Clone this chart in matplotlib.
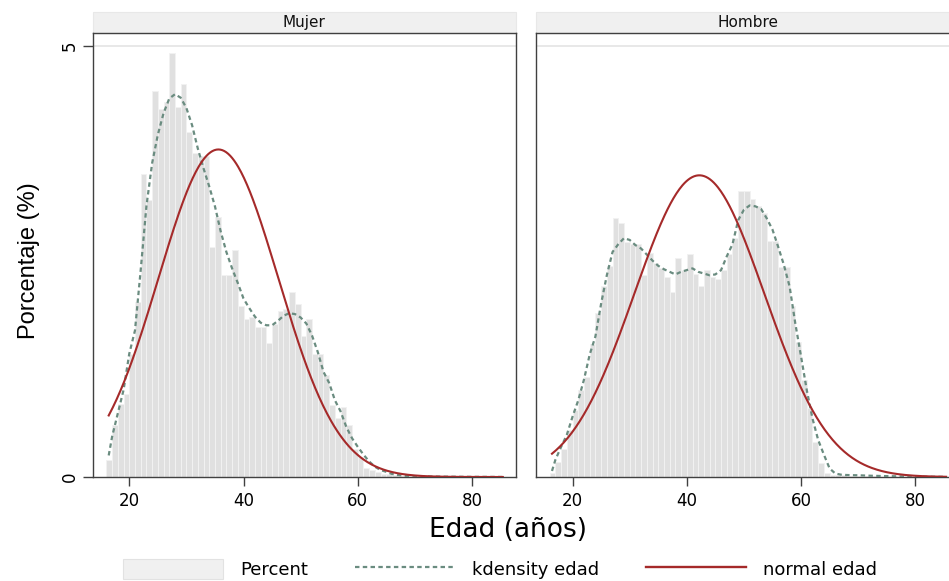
import numpy as np
import matplotlib.pyplot as plt
from matplotlib.patches import Patch, Rectangle
from matplotlib.lines import Line2D

# histogram bins of one year, percent of each group
ages = list(range(16, 76))
pct_mujer = [0.20, 0.60, 0.85, 0.96, 1.43, 2.03, 3.52, 3.21, 4.48, 4.27,
             4.35, 4.92, 4.29, 4.56, 4.00, 3.76, 3.72, 3.72, 2.67, 3.02,
             2.34, 2.34, 2.63, 1.98, 1.83, 1.86, 1.74, 1.74, 1.55, 1.78,
             1.92, 1.95, 2.15, 2.01, 1.63, 1.83, 1.43, 1.43, 1.18, 0.84,
             0.68, 0.81, 0.60, 0.33, 0.23, 0.11, 0.08, 0.06, 0.04, 0.03,
             0.02, 0.015, 0.01, 0.01, 0.008, 0.006, 0.005, 0.004, 0.003, 0.003]
pct_hombre = [0.05, 0.17, 0.33, 0.55, 0.78, 1.01, 1.16, 1.54, 1.90, 2.22,
              2.45, 3.01, 2.95, 2.73, 2.70, 2.70, 2.34, 2.60, 2.48, 2.43,
              2.32, 2.15, 2.54, 2.40, 2.59, 2.36, 2.21, 2.40, 2.32, 2.30,
              2.40, 2.59, 2.77, 3.32, 3.32, 3.23, 3.14, 3.06, 2.74, 2.74,
              2.44, 2.44, 1.98, 1.57, 1.13, 0.80, 0.41, 0.16, 0.05, 0.02,
              0.02, 0.02, 0.015, 0.01, 0.01, 0.008, 0.006, 0.005, 0.004, 0.003]

# kernel density
kd_ages = [16.4] + list(range(17, 71)) + [72, 75, 80, 85.4]
kd_mujer = [0.25,
            0.47, 0.74, 1.01, 1.43, 1.70, 2.40, 3.14, 3.64, 3.97, 4.22,
            4.39, 4.44, 4.40, 4.28, 4.08, 3.81, 3.58, 3.37, 3.14, 2.85,
            2.61, 2.42, 2.25, 2.07, 1.96, 1.86, 1.79, 1.76, 1.76, 1.81,
            1.87, 1.90, 1.89, 1.85, 1.78, 1.64, 1.45, 1.22, 1.09, 0.89,
            0.76, 0.58, 0.45, 0.35, 0.26, 0.18, 0.12, 0.08, 0.06, 0.035,
            0.023, 0.015, 0.01, 0.008,
            0.006, 0.004, 0.002, 0.001]
kd_hombre = [0.07,
             0.20, 0.35, 0.49, 0.70, 0.89, 1.13, 1.42, 1.63, 2.01, 2.34,
             2.61, 2.70, 2.77, 2.75, 2.69, 2.65, 2.58, 2.51, 2.45, 2.41,
             2.38, 2.35, 2.38, 2.40, 2.42, 2.38, 2.36, 2.34, 2.35, 2.40,
             2.56, 2.70, 2.98, 3.10, 3.15, 3.14, 3.11, 3.00, 2.87, 2.67,
             2.46, 2.21, 1.78, 1.40, 1.01, 0.68, 0.43, 0.26, 0.10, 0.04,
             0.027, 0.023, 0.021, 0.02,
             0.015, 0.01, 0.004, 0.002]

# normal overlay (mean and sd of edad in each group)
groups = ["Mujer", "Hombre"]
normal_mean = [35.6, 42.2]
normal_sd = [10.5, 11.4]
age_min, age_max = 16.4, 85.4

BAR_FACE = "#e0e0e0"
BAR_EDGE = "#f2f2f2"
KD_COLOR = "#6a8c80"
NORMAL_COLOR = "#a52a2a"
FRAME = "#404040"
KD_DASH = (0, (2.0, 1.5))


def draw_panel(ax, title, pct, kd, mean, sd):
    ax.bar(ages, pct, width=1.0, align="edge", color=BAR_FACE,
           edgecolor=BAR_EDGE, linewidth=0.7, zorder=2)
    ax.plot(kd_ages, kd, color=KD_COLOR, lw=1.6, linestyle=KD_DASH, zorder=3)

    x = np.linspace(age_min, age_max, 400)
    y = 100.0 / (sd * np.sqrt(2 * np.pi)) * np.exp(-0.5 * ((x - mean) / sd) ** 2)
    ax.plot(x, y, color=NORMAL_COLOR, lw=1.5, zorder=4)

    ax.set_xlim(13.6, 87.7)
    ax.set_ylim(0, 5.147)
    ax.axhline(5, color="#e4e4e4", lw=1.2, zorder=1)

    ax.set_xticks([20, 40, 60, 80])
    ax.tick_params(axis="x", length=6.5, width=1, color=FRAME, pad=4, labelsize=12)
    for s in ax.spines.values():
        s.set_color(FRAME)
        s.set_linewidth(1.0)

    # facet strip above the panel
    strip = Rectangle((0, 1.0), 1.0, 0.048, transform=ax.transAxes, clip_on=False,
                      facecolor="#f0f0f0", edgecolor="#e8e8e8", lw=0.8)
    ax.add_patch(strip)
    ax.text(0.5, 1.024, title, transform=ax.transAxes, ha="center", va="center",
            fontsize=11, color="#111111")


def main():
    plt.rcParams["font.family"] = ["DejaVu Sans"]
    fig = plt.figure(figsize=(9.49, 5.81), dpi=100)

    ax1 = fig.add_axes([0.0977, 0.179, 0.446, 0.7637])
    ax2 = fig.add_axes([0.5648, 0.179, 0.446, 0.7637])

    draw_panel(ax1, groups[0], pct_mujer, kd_mujer, normal_mean[0], normal_sd[0])
    draw_panel(ax2, groups[1], pct_hombre, kd_hombre, normal_mean[1], normal_sd[1])

    ax1.set_yticks([0, 5])
    ax1.tick_params(axis="y", length=7, width=1, color=FRAME, pad=3, labelsize=12,
                    labelrotation=90)
    for lab in ax1.get_yticklabels():
        lab.set_va("center")
    ax2.set_yticks([])

    fig.text(29 / 949, 1 - 261 / 581, "Porcentaje (%)", rotation=90, ha="center",
             va="center", fontsize=17, family=["Liberation Sans", "DejaVu Sans"])
    fig.text(508 / 949, 1 - 530 / 581, "Edad (años)", ha="center", va="center",
             fontsize=19)

    handles = [
        Patch(facecolor="#f0f0f0", edgecolor="#e2e2e2", lw=0.8),
        Line2D([], [], color=KD_COLOR, lw=1.6, linestyle=KD_DASH),
        Line2D([], [], color=NORMAL_COLOR, lw=1.7),
    ]
    fig.legend(handles, ["Percent", "kdensity edad", "normal edad"], ncol=3,
               loc="center", bbox_to_anchor=(500 / 949, 12 / 581), frameon=False,
               fontsize=13, handlelength=5.54, handleheight=1.36, handletextpad=0.94,
               columnspacing=2.6, borderpad=0, borderaxespad=0)

    fig.savefig("out.png", dpi=100)


if __name__ == "__main__":
    main()
